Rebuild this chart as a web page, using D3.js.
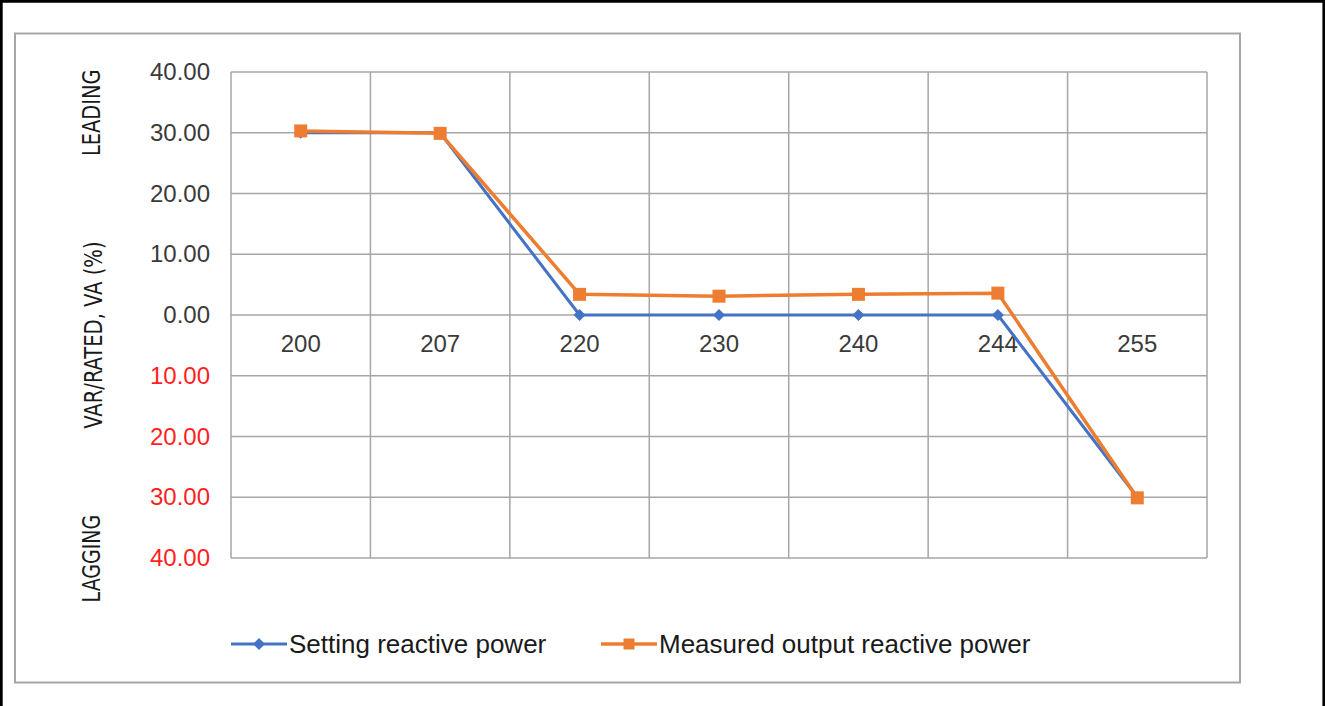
<!DOCTYPE html>
<html>
<head>
<meta charset="utf-8">
<script src="https://cdn.jsdelivr.net/npm/d3@7"></script>
<style>
    body { margin: 0; background: #ffffff; }
    svg { display: block; }
</style>
</head>
<body>
<div id="chart"></div>
<script>
(function () {
    'use strict';

    // data
    let categories = ['200', '207', '220', '230', '240', '244', '255'];
    let settingPower = [30, 30, 0, 0, 0, 0, -30];
    let measuredPower = [30.3, 29.9, 3.4, 3.1, 3.4, 3.6, -30.1];
    let yTicks = [40, 30, 20, 10, 0, -10, -20, -30, -40];
    let seriesNames = ['Setting reactive power', 'Measured output reactive power'];

    let width = 1325;
    let height = 706;
    let plot = { left: 231, right: 1207, top: 72, bottom: 558 };

    let blue = '#4472c4';
    let orange = '#ed7d31';
    let gridColor = '#a6a6a6';
    let numberFont = '"Liberation Sans", Arial, sans-serif';
    let narrowFont = '"Liberation Sans Narrow", "Arial Narrow", "DejaVu Sans Condensed", sans-serif';

    let svg = d3.select('#chart').append('svg')
        .attr('width', width)
        .attr('height', height);

    // black frame round the picture (no bottom edge)
    svg.append('path')
        .attr('d', 'M1.3,706 V1.3 H1323.8 V706')
        .attr('fill', 'none')
        .attr('stroke', '#000')
        .attr('stroke-width', 2.8);

    // chart area box
    svg.append('rect')
        .attr('x', 15)
        .attr('y', 33.5)
        .attr('width', 1225)
        .attr('height', 649)
        .attr('fill', '#fff')
        .attr('stroke', gridColor)
        .attr('stroke-width', 2);

    let x = d3.scaleBand()
        .domain(categories)
        .range([plot.left, plot.right])
        .padding(0);
    let y = d3.scaleLinear()
        .domain([-40, 40])
        .range([plot.bottom, plot.top]);
    let cx = function (d, i) { return x(categories[i]) + x.bandwidth() / 2; };

    // grid
    let grid = svg.append('g').attr('class', 'grid');
    grid.selectAll('line.h')
        .data(yTicks)
        .enter()
        .append('line')
        .attr('class', 'h')
        .attr('x1', plot.left)
        .attr('x2', plot.right)
        .attr('y1', function (d) { return y(d); })
        .attr('y2', function (d) { return y(d); })
        .attr('stroke', gridColor)
        .attr('stroke-width', 1.5);
    grid.selectAll('line.v')
        .data(categories.concat(['end']))
        .enter()
        .append('line')
        .attr('class', 'v')
        .attr('x1', function (d) { return d === 'end' ? plot.right : x(d); })
        .attr('x2', function (d) { return d === 'end' ? plot.right : x(d); })
        .attr('y1', plot.top)
        .attr('y2', plot.bottom)
        .attr('stroke', gridColor)
        .attr('stroke-width', 1.5);

    // y axis labels (negative side shown in red, without sign)
    let yAxis = d3.axisLeft(y)
        .tickValues(yTicks)
        .tickSize(0)
        .tickPadding(21)
        .tickFormat(function (d) { return Math.abs(d).toFixed(2); });
    let yAxisG = svg.append('g')
        .attr('transform', 'translate(' + plot.left + ',0)')
        .call(yAxis);
    yAxisG.select('.domain').remove();
    yAxisG.selectAll('text')
        .attr('font-family', numberFont)
        .attr('font-size', 24)
        .attr('fill', function (d) { return d < 0 ? '#ff1f1f' : '#3a3a3a'; });

    // category labels sit at the zero line
    let xAxis = d3.axisBottom(x)
        .tickSize(0)
        .tickPadding(20);
    let xAxisG = svg.append('g')
        .attr('transform', 'translate(0,' + y(0) + ')')
        .call(xAxis);
    xAxisG.select('.domain').remove();
    xAxisG.selectAll('text')
        .attr('font-family', numberFont)
        .attr('font-size', 24)
        .attr('fill', '#3a3a3a');

    // side labels, squeezed along the text like the narrow font in the original
    let sideLabels = [
        { text: 'LEADING', x: 92, y: y(33.3), size: 24, squeeze: 0.9 },
        { text: 'VAR/RATED, VA (%)', x: 93, y: y(-3.3), size: 25, squeeze: 0.87 },
        { text: 'LAGGING', x: 92, y: y(-40.1), size: 24, squeeze: 0.88 }
    ];
    svg.selectAll('text.side')
        .data(sideLabels)
        .enter()
        .append('text')
        .attr('class', 'side')
        .attr('transform', function (d) {
            return 'translate(' + d.x + ',' + d.y + ') rotate(-90) scale(' + d.squeeze + ',1)';
        })
        .attr('text-anchor', 'middle')
        .attr('dy', '0.35em')
        .attr('font-family', narrowFont)
        .attr('font-size', function (d) { return d.size; })
        .attr('fill', '#1a1a1a')
        .text(function (d) { return d.text; });

    let diamond = d3.symbol().type(d3.symbolSquare).size(72);
    let square = d3.symbol().type(d3.symbolSquare).size(169);

    let series = [
        { name: seriesNames[0], values: settingPower, color: blue, width: 3, marker: diamond, rotate: 45 },
        { name: seriesNames[1], values: measuredPower, color: orange, width: 3.5, marker: square, rotate: 0 }
    ];

    let line = d3.line()
        .x(cx)
        .y(function (d) { return y(d); });

    series.forEach(function (s) {
        let g = svg.append('g');
        g.append('path')
            .datum(s.values)
            .attr('d', line)
            .attr('fill', 'none')
            .attr('stroke', s.color)
            .attr('stroke-width', s.width)
            .attr('stroke-linejoin', 'round');
        g.selectAll('path.marker')
            .data(s.values)
            .enter()
            .append('path')
            .attr('class', 'marker')
            .attr('d', s.marker)
            .attr('transform', function (d, i) {
                return 'translate(' + cx(d, i) + ',' + y(d) + ') rotate(' + s.rotate + ')';
            })
            .attr('fill', s.color);
    });

    // legend
    let legendY = 644;
    let legendItems = [
        { s: series[0], x: 231 },
        { s: series[1], x: 601 }
    ];
    let legend = svg.selectAll('g.legend')
        .data(legendItems)
        .enter()
        .append('g')
        .attr('class', 'legend')
        .attr('transform', function (d) { return 'translate(' + d.x + ',' + legendY + ')'; });
    legend.append('line')
        .attr('x1', 0)
        .attr('x2', 56)
        .attr('stroke', function (d) { return d.s.color; })
        .attr('stroke-width', function (d) { return d.s.width; });
    legend.append('path')
        .attr('d', function (d) { return d.s.marker === square ? d3.symbol().type(d3.symbolSquare).size(121)() : diamond(); })
        .attr('transform', function (d) { return 'translate(28,0) rotate(' + d.s.rotate + ')'; })
        .attr('fill', function (d) { return d.s.color; });
    legend.append('text')
        .attr('x', 58)
        .attr('dy', '0.35em')
        .attr('font-family', numberFont)
        .attr('font-size', 26)
        .attr('fill', '#1a1a1a')
        .text(function (d) { return d.s.name; });
})();
</script>
</body>
</html>
